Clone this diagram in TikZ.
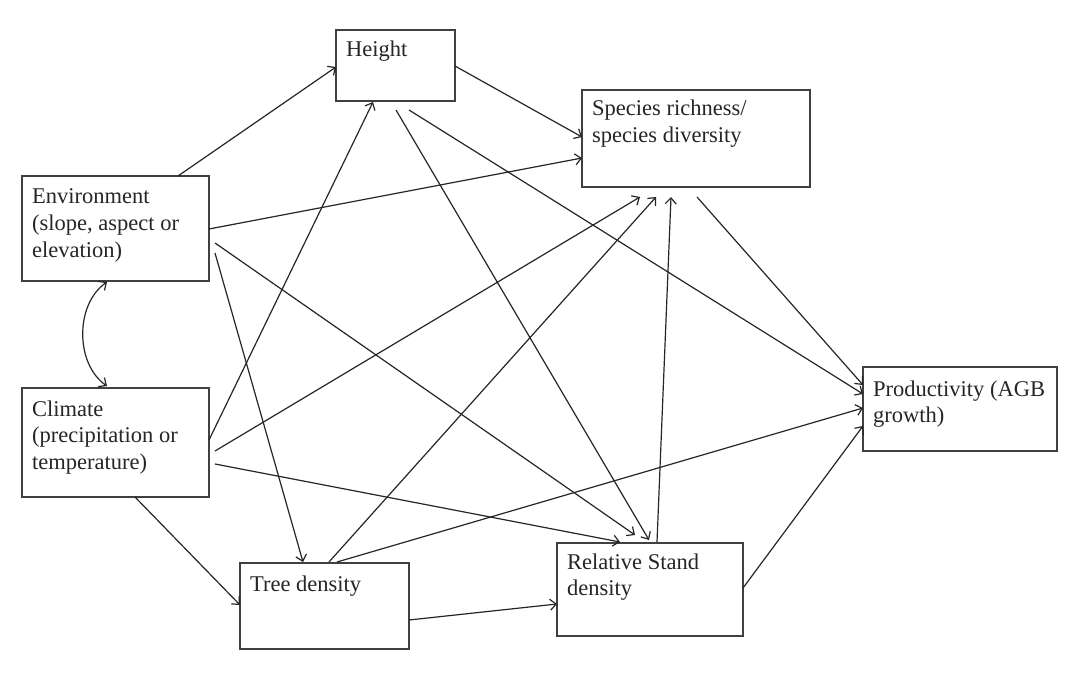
\documentclass[tikz,border=0pt]{standalone}
\usepackage{fontspec}
\setmainfont{Liberation Serif}
\usetikzlibrary{arrows.meta,calc}
\newcommand{\mylines}[1]{\begin{tabular}[t]{@{}l@{}}#1\end{tabular}}
\begin{document}
\begin{tikzpicture}[x=1pt,y=-1pt,
  box/.style={draw=black!75,line width=1.4pt,inner sep=0pt,outer sep=0pt},
  txt/.style={anchor=base west,inner sep=0pt,text=black!85,
    font=\fontsize{22.5}{26.7}\selectfont},
  link/.style={draw=black!85,line width=1.2pt,
    -{Straight Barb[length=6pt,width=11pt,line width=1.2pt]}},
  dlink/.style={draw=black!85,line width=1.2pt,
    {Straight Barb[length=6pt,width=11pt,line width=1.2pt]}-{Straight Barb[length=6pt,width=11pt,line width=1.2pt]}}
]
\useasboundingbox (0,0) rectangle (1084,676);
\fill[white] (0,0) rectangle (1084,676);
% boxes
\node[box,minimum width=119pt,minimum height=71pt]  (H) at (395.5,65.5) {};
\node[box,minimum width=228pt,minimum height=97pt]  (S) at (696,138.5) {};
\node[box,minimum width=187pt,minimum height=105pt] (E) at (115.5,228.5) {};
\node[box,minimum width=187pt,minimum height=109pt] (C) at (115.5,442.5) {};
\node[box,minimum width=194pt,minimum height=84pt]  (P) at (960,409) {};
\node[box,minimum width=169pt,minimum height=86pt]  (T) at (324.5,606) {};
\node[box,minimum width=186pt,minimum height=93pt]  (R) at (650,589.5) {};
% texts
\node[txt] (Ht) at ([shift={(10,27)}]H.north west) {Height};
\node[txt] (St) at ([shift={(10,26)}]S.north west) {\mylines{Species richness/\\species diversity}};
\node[txt] (Et) at ([shift={(10,28)}]E.north west) {\mylines{Environment\\(slope, aspect or\\elevation)}};
\node[txt] (Ct) at ([shift={(10,28)}]C.north west) {\mylines{Climate\\(precipitation or\\temperature)}};
\node[txt] (Pt) at ([shift={(10,29)}]P.north west) {\mylines{Productivity (AGB\\growth)}};
\node[txt] (Tt) at ([shift={(10,28)}]T.north west) {Tree density};
\node[txt] (Rt) at ([shift={(10,26)}]R.north west) {\mylines{Relative Stand\\density}};
% connectors
\draw[link] ([shift={(156,0)}]E.north west) -- ([shift={(0,37)}]H.north west);
\draw[link] ([shift={(119,36)}]H.north west) -- ([shift={(0,47)}]S.north west);
\draw[link] ([shift={(187,53)}]E.north west) -- ([shift={(0,68)}]S.north west);
\draw[link] ([shift={(187,52)}]C.north west) -- ([shift={(37,72)}]H.north west);
\draw[link] ([shift={(73,80)}]H.north west) -- ([shift={(0,27)}]P.north west);
\draw[link] ([shift={(60,80)}]H.north west) -- ([shift={(92,-3)}]R.north west);
\draw[link] ([shift={(193,67)}]E.north west) -- ([shift={(78,-8)}]R.north west);
\draw[link] ([shift={(193,76)}]C.north west) -- ([shift={(63,-1)}]R.north west);
\draw[link] ([shift={(193,77)}]E.north west) -- ([shift={(63,-1)}]T.north west);
\draw[link] ([shift={(193,63)}]C.north west) -- ([shift={(58,107)}]S.north west);
\draw[link] ([shift={(89,-1)}]T.north west) -- ([shift={(74,107)}]S.north west);
\draw[link] ([shift={(100,-1)}]R.north west) -- ([shift={(89,107)}]S.north west);
\draw[link] ([shift={(97,-1)}]T.north west) -- ([shift={(0,41)}]P.north west);
\draw[link] ([shift={(169,57)}]T.north west) -- ([shift={(0,61)}]R.north west);
\draw[link] ([shift={(113,109)}]C.north west) -- ([shift={(0,42)}]T.north west);
\draw[link] ([shift={(115,107)}]S.north west) -- ([shift={(0,18)}]P.north west);
\draw[link] ([shift={(186,45)}]R.north west) -- ([shift={(0,59)}]P.north west);
\draw[dlink] ([shift={(85,106)}]E.north west) .. controls +(-32,22) and +(-32,-22) .. ([shift={(85,-2)}]C.north west);
\end{tikzpicture}
\end{document}
